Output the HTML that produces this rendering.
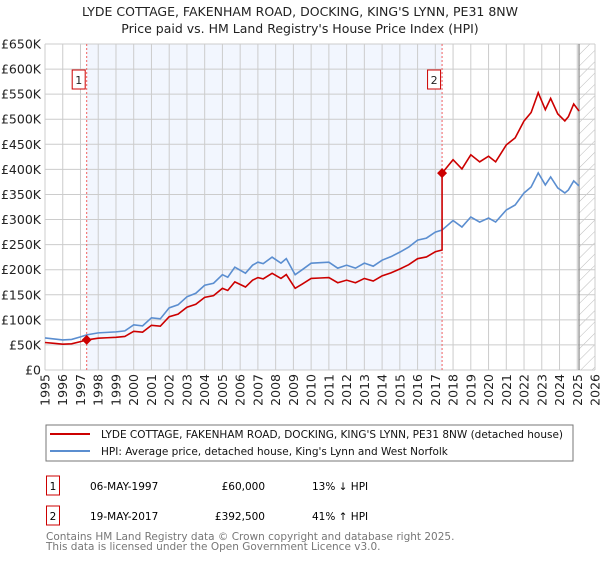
<!DOCTYPE html>
<html><head><meta charset="utf-8"><style>
body{margin:0;background:#fff;width:600px;height:560px;overflow:hidden;font-family:"DejaVu Sans","Liberation Sans",sans-serif;}
svg text{font-family:"DejaVu Sans","Liberation Sans",sans-serif;}
</style></head><body>
<svg id="chart" width="600" height="560" xmlns="http://www.w3.org/2000/svg">
<defs>
<pattern id="hatch" width="8" height="8" patternUnits="userSpaceOnUse" patternTransform="rotate(45)"><line x1="0" y1="0" x2="0" y2="8" stroke="#bbb" stroke-width="1"/></pattern>
</defs>
<text x="300" y="16" text-anchor="middle" font-size="12.5" fill="#222">LYDE COTTAGE, FAKENHAM ROAD, DOCKING, KING'S LYNN, PE31 8NW</text>
<text x="300" y="33" text-anchor="middle" font-size="12.5" fill="#222">Price paid vs. HM Land Registry's House Price Index (HPI)</text>
<g id="plot"></g>
<rect x="46" y="425" width="527" height="36" fill="#fff" stroke="#777"/>
<line x1="50" y1="434" x2="90" y2="434" stroke="#cc0000" stroke-width="2"/>
<text x="101" y="438" font-size="10.5" fill="#111">LYDE COTTAGE, FAKENHAM ROAD, DOCKING, KING'S LYNN, PE31 8NW (detached house)</text>
<line x1="50" y1="451" x2="90" y2="451" stroke="#5b8ed0" stroke-width="2"/>
<text x="101" y="455" font-size="10.5" fill="#111">HPI: Average price, detached house, King's Lynn and West Norfolk</text>
<g>
<rect x="46.5" y="476" width="13" height="19" fill="#fff" stroke="#cc0000"/>
<text x="53" y="490" text-anchor="middle" font-size="10.5">1</text>
<text x="90" y="490" font-size="10.5">06-MAY-1997</text>
<text x="265" y="490" text-anchor="end" font-size="10.5">£60,000</text>
<text x="312" y="490" font-size="10.5">13% ↓ HPI</text>
</g>
<g>
<rect x="46.5" y="506" width="13" height="19" fill="#fff" stroke="#cc0000"/>
<text x="53" y="520" text-anchor="middle" font-size="10.5">2</text>
<text x="90" y="520" font-size="10.5">19-MAY-2017</text>
<text x="265" y="520" text-anchor="end" font-size="10.5">£392,500</text>
<text x="312" y="520" font-size="10.5">41% ↑ HPI</text>
</g>
<text x="46" y="540" font-size="10.5" fill="#777">Contains HM Land Registry data © Crown copyright and database right 2025.</text>
<text x="46" y="550" font-size="10.5" fill="#777">This data is licensed under the Open Government Licence v3.0.</text>
</svg>
<script>
const hpiYears=[1995,1995.5,1996,1996.5,1997,1997.35,1998,1998.5,1999,1999.5,2000,2000.5,2001,2001.5,2002,2002.5,2003,2003.5,2004,2004.5,2005,2005.3,2005.7,2006.3,2006.7,2007,2007.3,2007.8,2008.3,2008.6,2009.1,2009.5,2010,2010.5,2011,2011.5,2012,2012.5,2013,2013.5,2014,2014.5,2015,2015.5,2016,2016.5,2017,2017.38,2018,2018.5,2019,2019.5,2020,2020.4,2021,2021.5,2022,2022.4,2022.8,2023.2,2023.5,2023.9,2024.3,2024.5,2024.8,2025.1];
const hpiValues=[64,62,60,61,66,70,74,75,76,78,90,88,104,102,124,130,146,153,169,173,190,185,205,193,209,215,212,225,213,222,190,200,213,214,215,203,209,203,213,207,219,226,235,245,259,263,275,279,298,285,305,295,303,295,319,329,353,365,393,369,385,363,353,359,377,367];
const saleYears=[1997.35,2017.38];
const salePrices=[60000,392500];
const yTicks=[0,50,100,150,200,250,300,350,400,450,500,550,600,650];
const xTicks=[1995,1996,1997,1998,1999,2000,2001,2002,2003,2004,2005,2006,2007,2008,2009,2010,2011,2012,2013,2014,2015,2016,2017,2018,2019,2020,2021,2022,2023,2024,2025,2026];
const dataEnd=2025.1;
const X0=45,X1=595,Y0=370,Y1=44;
const sx=t=>X0+(t-1995)/(2026-1995)*(X1-X0);
const sy=v=>Y0-v/650*(Y0-Y1);
const NS="http://www.w3.org/2000/svg";
const g=document.getElementById('plot');
function mk(tag,attrs,name){const e=document.createElementNS(NS,tag);for(const k in attrs)e.setAttribute(k,attrs[k]);


g.appendChild(e);return e;}
mk('rect',{x:X0,y:Y1,width:X1-X0,height:Y0-Y1,fill:'#fff'},'plot-background');
mk('rect',{x:sx(saleYears[0]),y:Y1,width:sx(saleYears[1])-sx(saleYears[0]),height:Y0-Y1,fill:'#f2f6fe'},'ownership-shade');
mk('rect',{x:sx(dataEnd),y:Y1,width:X1-sx(dataEnd),height:Y0-Y1,fill:'url(#hatch)'},'forecast-hatch');
yTicks.forEach(v=>{mk('line',{x1:X0,x2:X1,y1:sy(v),y2:sy(v),stroke:'#ccc'},'y-gridline');
const t=mk('text',{x:41,y:sy(v)+4.5,'text-anchor':'end','font-size':'12.5',fill:'#222'},'y-tick-label');t.textContent=v===0?'£0':'£'+v+'K';});
xTicks.forEach(y=>{mk('line',{x1:sx(y),x2:sx(y),y1:Y1,y2:Y0,stroke:'#ccc'},'x-gridline');
const lx=sx(y)+4.5,ly=Y0+4;
const t=mk('text',{x:lx,y:ly,transform:'rotate(-90 '+lx+' '+ly+')','text-anchor':'end','font-size':'12.5',fill:'#222'},'x-tick-label');t.textContent=y;});
mk('line',{x1:sx(dataEnd),x2:sx(dataEnd),y1:Y1,y2:Y0,stroke:'#888','stroke-width':1.2},'data-end-line');
saleYears.forEach((s,i)=>{mk('line',{x1:sx(s),x2:sx(s),y1:Y1,y2:Y0,stroke:'#f06060','stroke-dasharray':'2,2'},'sale-marker-line');
mk('rect',{x:sx(s)-14.5,y:70,width:13,height:19,fill:'#fff',stroke:'#cc0000'},'sale-label-box');
const t=mk('text',{x:sx(s)-8,y:84,'text-anchor':'middle','font-size':'11',fill:'#222'},'sale-label');t.textContent=i+1;});
function hpiAt(t){for(let i=1;i<hpiYears.length;i++){if(t<=hpiYears[i]){const a=hpiYears[i-1],b=hpiYears[i];return hpiValues[i-1]+(hpiValues[i]-hpiValues[i-1])*(t-a)/(b-a);}}return hpiValues[hpiValues.length-1];}
mk('polyline',{points:hpiYears.map((t,i)=>sx(t)+','+sy(hpiValues[i])).join(' '),fill:'none',stroke:'#5b8ed0','stroke-width':1.6},'hpi-line');
const pts=[];
hpiYears.forEach((t,i)=>{let k=0;for(let j=0;j<saleYears.length;j++)if(t>=saleYears[j])k=j;
if(t===saleYears[1]){pts.push(sx(t)+','+sy(salePrices[0]/1000*hpiValues[i]/hpiAt(saleYears[0])));}
pts.push(sx(t)+','+sy(salePrices[k]/1000*hpiValues[i]/hpiAt(saleYears[k])));});
mk('polyline',{points:pts.join(' '),fill:'none',stroke:'#cc0000','stroke-width':1.6},'price-paid-line');
saleYears.forEach((s,i)=>{const x=sx(s),y=sy(salePrices[i]/1000);
mk('polygon',{points:`${x},${y-5} ${x+5},${y} ${x},${y+5} ${x-5},${y}`,fill:'#cc0000'},'sale-point');});
</script>
</body></html>
